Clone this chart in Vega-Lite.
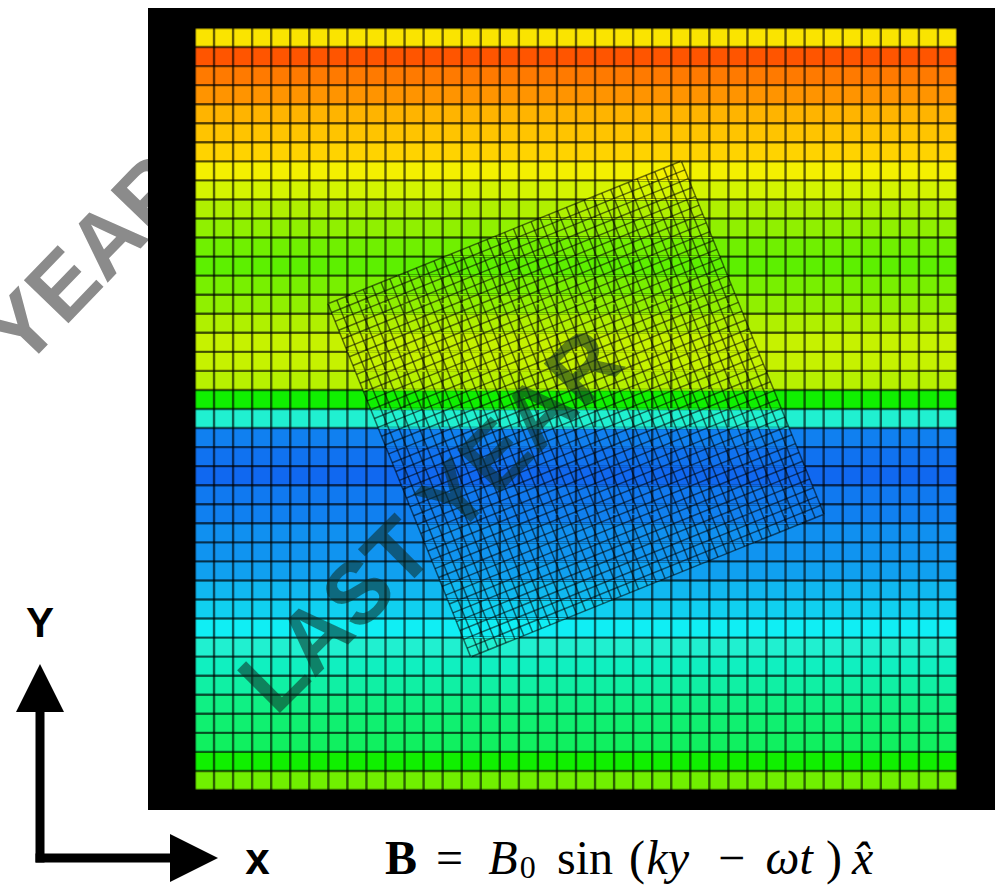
{
"$schema": "https://vega.github.io/schema/vega-lite/v6.json",
"width": 1000, "height": 885, "autosize": "none", "padding": 0, "background": "white",
"config": {"view": {"stroke": null}, "axis": {"disable": true}, "legend": {"disable": true}},
"datasets": {
"gridk": [{"k":0},{"k":1},{"k":2},{"k":3},{"k":4},{"k":5},{"k":6},{"k":7},{"k":8},{"k":9},{"k":10},{"k":11},{"k":12},{"k":13},{"k":14},{"k":15},{"k":16},{"k":17},{"k":18},{"k":19},{"k":20},{"k":21},{"k":22},{"k":23},{"k":24},{"k":25},{"k":26},{"k":27},{"k":28},{"k":29},{"k":30},{"k":31},{"k":32},{"k":33},{"k":34},{"k":35},{"k":36},{"k":37},{"k":38},{"k":39},{"k":40}],
"bands": [
{"row":0,"y0":39,"y1":40,"v":0.885},{"row":1,"y0":38,"y1":39,"v":1.0},{"row":2,"y0":37,"y1":38,"v":0.97},{"row":3,"y0":36,"y1":37,"v":0.95},
{"row":4,"y0":35,"y1":36,"v":0.93},{"row":5,"y0":34,"y1":35,"v":0.92},{"row":6,"y0":33,"y1":34,"v":0.905},{"row":7,"y0":32,"y1":33,"v":0.87},
{"row":8,"y0":31,"y1":32,"v":0.83},{"row":9,"y0":30,"y1":31,"v":0.78},{"row":10,"y0":29,"y1":30,"v":0.74},{"row":11,"y0":28,"y1":29,"v":0.70},
{"row":12,"y0":27,"y1":28,"v":0.68},{"row":13,"y0":26,"y1":27,"v":0.71},{"row":14,"y0":25,"y1":26,"v":0.74},{"row":15,"y0":24,"y1":25,"v":0.78},
{"row":16,"y0":23,"y1":24,"v":0.81},{"row":17,"y0":22,"y1":23,"v":0.81},{"row":18,"y0":21,"y1":22,"v":0.79},{"row":19,"y0":20,"y1":21,"v":0.6},
{"row":20,"y0":19,"y1":20,"v":0.36},{"row":21,"y0":18,"y1":19,"v":0.07},{"row":22,"y0":17,"y1":18,"v":0.03},{"row":23,"y0":16,"y1":17,"v":0.0},
{"row":24,"y0":15,"y1":16,"v":0.05},{"row":25,"y0":14,"y1":15,"v":0.07},{"row":26,"y0":13,"y1":14,"v":0.11},{"row":27,"y0":12,"y1":13,"v":0.12},
{"row":28,"y0":11,"y1":12,"v":0.15},{"row":29,"y0":10,"y1":11,"v":0.2},{"row":30,"y0":9,"y1":10,"v":0.25},{"row":31,"y0":8,"y1":9,"v":0.3},
{"row":32,"y0":7,"y1":8,"v":0.36},{"row":33,"y0":6,"y1":7,"v":0.38},{"row":34,"y0":5,"y1":6,"v":0.41},{"row":35,"y0":4,"y1":5,"v":0.45},
{"row":36,"y0":3,"y1":4,"v":0.48},{"row":37,"y0":2,"y1":3,"v":0.5},{"row":38,"y0":1,"y1":2,"v":0.6},{"row":39,"y0":0,"y1":1,"v":0.7}
],
"rotbands": [
{"b":6,"w":6.982,"l":14.474,"r":14.474,"v":0.38},{"b":6,"w":7,"l":14.467,"r":14.519,"v":0.38},
{"b":7,"w":7,"l":14.467,"r":14.519,"v":0.36},{"b":7,"w":8,"l":14.063,"r":16.994,"v":0.36},
{"b":8,"w":8,"l":14.063,"r":16.994,"v":0.3},{"b":8,"w":9,"l":13.659,"r":19.469,"v":0.3},
{"b":9,"w":9,"l":13.659,"r":19.469,"v":0.25},{"b":9,"w":10,"l":13.255,"r":21.944,"v":0.25},
{"b":10,"w":10,"l":13.255,"r":21.944,"v":0.2},{"b":10,"w":11,"l":12.851,"r":24.419,"v":0.2},
{"b":11,"w":11,"l":12.851,"r":24.419,"v":0.15},{"b":11,"w":12,"l":12.447,"r":26.894,"v":0.15},
{"b":12,"w":12,"l":12.447,"r":26.894,"v":0.12},{"b":12,"w":13,"l":12.043,"r":29.370,"v":0.12},
{"b":13,"w":13,"l":12.043,"r":29.370,"v":0.11},{"b":13,"w":14,"l":11.639,"r":31.845,"v":0.11},
{"b":14,"w":14,"l":11.639,"r":31.845,"v":0.07},{"b":14,"w":14.474,"l":11.447,"r":33.018,"v":0.07},{"b":14,"w":15,"l":11.235,"r":32.806,"v":0.07},
{"b":15,"w":15,"l":11.235,"r":32.806,"v":0.05},{"b":15,"w":16,"l":10.831,"r":32.402,"v":0.05},
{"b":16,"w":16,"l":10.831,"r":32.402,"v":0.0},{"b":16,"w":17,"l":10.427,"r":31.998,"v":0.0},
{"b":17,"w":17,"l":10.427,"r":31.998,"v":0.03},{"b":17,"w":18,"l":10.023,"r":31.594,"v":0.03},
{"b":18,"w":18,"l":10.023,"r":31.594,"v":0.07},{"b":18,"w":19,"l":9.619,"r":31.189,"v":0.07},
{"b":19,"w":19,"l":9.619,"r":31.189,"v":0.36},{"b":19,"w":20,"l":9.215,"r":30.785,"v":0.36},
{"b":20,"w":20,"l":9.215,"r":30.785,"v":0.6},{"b":20,"w":21,"l":8.811,"r":30.381,"v":0.6},
{"b":21,"w":21,"l":8.811,"r":30.381,"v":0.79},{"b":21,"w":22,"l":8.407,"r":29.977,"v":0.79},
{"b":22,"w":22,"l":8.407,"r":29.977,"v":0.81},{"b":22,"w":23,"l":8.003,"r":29.573,"v":0.81},
{"b":23,"w":23,"l":8.003,"r":29.573,"v":0.81},{"b":23,"w":24,"l":7.599,"r":29.169,"v":0.81},
{"b":24,"w":24,"l":7.599,"r":29.169,"v":0.78},{"b":24,"w":25,"l":7.195,"r":28.765,"v":0.78},
{"b":25,"w":25,"l":7.195,"r":28.765,"v":0.74},{"b":25,"w":25.526,"l":6.982,"r":28.553,"v":0.74},{"b":25,"w":26,"l":8.155,"r":28.361,"v":0.74},
{"b":26,"w":26,"l":8.155,"r":28.361,"v":0.71},{"b":26,"w":27,"l":10.630,"r":27.957,"v":0.71},
{"b":27,"w":27,"l":10.630,"r":27.957,"v":0.68},{"b":27,"w":28,"l":13.106,"r":27.553,"v":0.68},
{"b":28,"w":28,"l":13.106,"r":27.553,"v":0.70},{"b":28,"w":29,"l":15.581,"r":27.149,"v":0.70},
{"b":29,"w":29,"l":15.581,"r":27.149,"v":0.74},{"b":29,"w":30,"l":18.056,"r":26.745,"v":0.74},
{"b":30,"w":30,"l":18.056,"r":26.745,"v":0.78},{"b":30,"w":31,"l":20.531,"r":26.341,"v":0.78},
{"b":31,"w":31,"l":20.531,"r":26.341,"v":0.83},{"b":31,"w":32,"l":23.006,"r":25.937,"v":0.83},
{"b":32,"w":32,"l":23.006,"r":25.937,"v":0.87},{"b":32,"w":33,"l":25.481,"r":25.533,"v":0.87},
{"b":33,"w":33,"l":25.481,"r":25.533,"v":0.905},{"b":33,"w":33.018,"l":25.526,"r":25.526,"v":0.905}
],
"rotlines": [
{"xa":14.474,"ya":6.982,"xb":6.982,"yb":25.526},{"xa":14.938,"ya":7.169,"xb":7.446,"yb":25.713},{"xa":15.401,"ya":7.357,"xb":7.909,"yb":25.901},
{"xa":15.865,"ya":7.544,"xb":8.373,"yb":26.088},{"xa":16.328,"ya":7.731,"xb":8.836,"yb":26.275},{"xa":16.792,"ya":7.919,"xb":9.300,"yb":26.463},
{"xa":17.256,"ya":8.106,"xb":9.764,"yb":26.650},{"xa":17.719,"ya":8.293,"xb":10.227,"yb":26.837},{"xa":18.183,"ya":8.480,"xb":10.691,"yb":27.024},
{"xa":18.646,"ya":8.668,"xb":11.154,"yb":27.212},{"xa":19.110,"ya":8.855,"xb":11.618,"yb":27.399},{"xa":19.574,"ya":9.042,"xb":12.082,"yb":27.586},
{"xa":20.037,"ya":9.230,"xb":12.545,"yb":27.774},{"xa":20.501,"ya":9.417,"xb":13.009,"yb":27.961},{"xa":20.964,"ya":9.604,"xb":13.472,"yb":28.148},
{"xa":21.428,"ya":9.792,"xb":13.936,"yb":28.336},{"xa":21.892,"ya":9.979,"xb":14.400,"yb":28.523},{"xa":22.355,"ya":10.166,"xb":14.863,"yb":28.710},
{"xa":22.819,"ya":10.353,"xb":15.327,"yb":28.897},{"xa":23.282,"ya":10.541,"xb":15.790,"yb":29.085},{"xa":23.746,"ya":10.728,"xb":16.254,"yb":29.272},
{"xa":24.210,"ya":10.915,"xb":16.718,"yb":29.459},{"xa":24.673,"ya":11.103,"xb":17.181,"yb":29.647},{"xa":25.137,"ya":11.290,"xb":17.645,"yb":29.834},
{"xa":25.600,"ya":11.477,"xb":18.108,"yb":30.021},{"xa":26.064,"ya":11.665,"xb":18.572,"yb":30.209},{"xa":26.528,"ya":11.852,"xb":19.036,"yb":30.396},
{"xa":26.991,"ya":12.039,"xb":19.499,"yb":30.583},{"xa":27.455,"ya":12.226,"xb":19.963,"yb":30.770},{"xa":27.918,"ya":12.414,"xb":20.426,"yb":30.958},
{"xa":28.382,"ya":12.601,"xb":20.890,"yb":31.145},{"xa":28.846,"ya":12.788,"xb":21.354,"yb":31.332},{"xa":29.309,"ya":12.976,"xb":21.817,"yb":31.520},
{"xa":29.773,"ya":13.163,"xb":22.281,"yb":31.707},{"xa":30.236,"ya":13.350,"xb":22.744,"yb":31.894},{"xa":30.700,"ya":13.538,"xb":23.208,"yb":32.082},
{"xa":31.164,"ya":13.725,"xb":23.672,"yb":32.269},{"xa":31.627,"ya":13.912,"xb":24.135,"yb":32.456},{"xa":32.091,"ya":14.099,"xb":24.599,"yb":32.643},
{"xa":32.554,"ya":14.287,"xb":25.062,"yb":32.831},{"xa":33.018,"ya":14.474,"xb":25.526,"yb":33.018},
{"xa":14.474,"ya":6.982,"xb":33.018,"yb":14.474},{"xa":14.287,"ya":7.446,"xb":32.831,"yb":14.938},{"xa":14.099,"ya":7.909,"xb":32.643,"yb":15.401},
{"xa":13.912,"ya":8.373,"xb":32.456,"yb":15.865},{"xa":13.725,"ya":8.836,"xb":32.269,"yb":16.328},{"xa":13.538,"ya":9.300,"xb":32.082,"yb":16.792},
{"xa":13.350,"ya":9.764,"xb":31.894,"yb":17.256},{"xa":13.163,"ya":10.227,"xb":31.707,"yb":17.719},{"xa":12.976,"ya":10.691,"xb":31.520,"yb":18.183},
{"xa":12.788,"ya":11.154,"xb":31.332,"yb":18.646},{"xa":12.601,"ya":11.618,"xb":31.145,"yb":19.110},{"xa":12.414,"ya":12.082,"xb":30.958,"yb":19.574},
{"xa":12.226,"ya":12.545,"xb":30.770,"yb":20.037},{"xa":12.039,"ya":13.009,"xb":30.583,"yb":20.501},{"xa":11.852,"ya":13.472,"xb":30.396,"yb":20.964},
{"xa":11.665,"ya":13.936,"xb":30.209,"yb":21.428},{"xa":11.477,"ya":14.400,"xb":30.021,"yb":21.892},{"xa":11.290,"ya":14.863,"xb":29.834,"yb":22.355},
{"xa":11.103,"ya":15.327,"xb":29.647,"yb":22.819},{"xa":10.915,"ya":15.790,"xb":29.459,"yb":23.282},{"xa":10.728,"ya":16.254,"xb":29.272,"yb":23.746},
{"xa":10.541,"ya":16.718,"xb":29.085,"yb":24.210},{"xa":10.353,"ya":17.181,"xb":28.897,"yb":24.673},{"xa":10.166,"ya":17.645,"xb":28.710,"yb":25.137},
{"xa":9.979,"ya":18.108,"xb":28.523,"yb":25.600},{"xa":9.792,"ya":18.572,"xb":28.336,"yb":26.064},{"xa":9.604,"ya":19.036,"xb":28.148,"yb":26.528},
{"xa":9.417,"ya":19.499,"xb":27.961,"yb":26.991},{"xa":9.230,"ya":19.963,"xb":27.774,"yb":27.455},{"xa":9.042,"ya":20.426,"xb":27.586,"yb":27.918},
{"xa":8.855,"ya":20.890,"xb":27.399,"yb":28.382},{"xa":8.668,"ya":21.354,"xb":27.212,"yb":28.846},{"xa":8.480,"ya":21.817,"xb":27.024,"yb":29.309},
{"xa":8.293,"ya":22.281,"xb":26.837,"yb":29.773},{"xa":8.106,"ya":22.744,"xb":26.650,"yb":30.236},{"xa":7.919,"ya":23.208,"xb":26.463,"yb":30.700},
{"xa":7.731,"ya":23.672,"xb":26.275,"yb":31.164},{"xa":7.544,"ya":24.135,"xb":26.088,"yb":31.627},{"xa":7.357,"ya":24.599,"xb":25.901,"yb":32.091},
{"xa":7.169,"ya":25.062,"xb":25.713,"yb":32.554},{"xa":6.982,"ya":25.526,"xb":25.526,"yb":33.018}
]
},
"layer": [
{"data": {"values": [{"t": "YEAR"}]},
 "mark": {"type": "text", "font": "Liberation Sans", "fontWeight": "bold", "fontSize": 90, "angle": -46, "align": "center", "baseline": "middle", "fill": "#8b8b8b"},
 "encoding": {
  "x": {"datum": -5.512, "type": "quantitative", "scale": {"domain": [-10.236, 42.257], "nice": false, "zero": false}, "axis": null},
  "y": {"datum": 27.717, "type": "quantitative", "scale": {"domain": [-4.987, 41.470], "nice": false, "zero": false}, "axis": null},
  "text": {"field": "t"}}},
{"data": {"values": [{}]},
 "mark": {"type": "rect", "color": "#000000"},
 "encoding": {"x": {"datum": -2.467}, "x2": {"datum": 41.995}, "y": {"datum": -1.05}, "y2": {"datum": 41.05}}},
{"data": {"name": "bands"},
 "mark": {"type": "rect"},
 "encoding": {
  "x": {"datum": 0}, "x2": {"datum": 40},
  "y": {"field": "y0", "type": "quantitative"}, "y2": {"field": "y1"},
  "color": {"field": "v", "type": "quantitative", "legend": null,
   "scale": {"domain": [0, 0.07, 0.12, 0.15, 0.2, 0.25, 0.3, 0.36, 0.38, 0.41, 0.45, 0.48, 0.5, 0.6, 0.7, 0.78, 0.83, 0.87, 0.9, 0.92, 0.95, 0.97, 1.0],
             "range": ["#1068f0", "#1080f0", "#1094f0", "#10a0f0", "#10b8f0", "#10d0f0", "#10eef4", "#20f0d0", "#10f0c0", "#10f0a4", "#10f084", "#10f070", "#10f060", "#10f000", "#70f000", "#b0f000", "#d4f400", "#f4f000", "#ffd800", "#ffc400", "#ff9400", "#ff7a00", "#ff5500"],
             "interpolate": "rgb"}}}},
{"data": {"name": "gridk"},
 "mark": {"type": "rule", "color": "#000000", "opacity": 0.6, "strokeWidth": 2.4},
 "encoding": {"x": {"field": "k", "type": "quantitative"}, "y": {"datum": 0}, "y2": {"datum": 40}}},
{"data": {"name": "gridk"},
 "mark": {"type": "rule", "color": "#000000", "opacity": 0.6, "strokeWidth": 2.4},
 "encoding": {"y": {"field": "k", "type": "quantitative"}, "x": {"datum": 0}, "x2": {"datum": 40}}},
{"data": {"name": "rotbands"},
 "mark": {"type": "area", "orient": "horizontal", "strokeWidth": 0.8, "opacity": 1},
 "encoding": {
  "y": {"field": "w", "type": "quantitative"},
  "x": {"field": "l", "type": "quantitative"}, "x2": {"field": "r"},
  "detail": {"field": "b", "type": "nominal"},
  "order": {"field": "w", "type": "quantitative"},
  "color": {"field": "v", "type": "quantitative", "legend": null},
  "stroke": {"field": "v", "type": "quantitative", "legend": null,
   "scale": {"domain": [0, 0.07, 0.12, 0.15, 0.2, 0.25, 0.3, 0.36, 0.38, 0.41, 0.45, 0.48, 0.5, 0.6, 0.7, 0.78, 0.83, 0.87, 0.9, 0.92, 0.95, 0.97, 1.0],
             "range": ["#1068f0", "#1080f0", "#1094f0", "#10a0f0", "#10b8f0", "#10d0f0", "#10eef4", "#20f0d0", "#10f0c0", "#10f0a4", "#10f084", "#10f070", "#10f060", "#10f000", "#70f000", "#b0f000", "#d4f400", "#f4f000", "#ffd800", "#ffc400", "#ff9400", "#ff7a00", "#ff5500"],
             "interpolate": "rgb"}}}},
{"data": {"name": "rotlines"},
 "mark": {"type": "rule", "color": "#000000", "opacity": 0.55, "strokeWidth": 1.5},
 "encoding": {"x": {"field": "xa", "type": "quantitative"}, "y": {"field": "ya", "type": "quantitative"}, "x2": {"field": "xb"}, "y2": {"field": "yb"}}},
{"data": {"values": [{"t": "LAST YEAR"}]},
 "mark": {"type": "text", "font": "Liberation Sans", "fontWeight": "bold", "fontSize": 88, "angle": -45, "align": "center", "baseline": "middle", "fill": "#0d2a22", "opacity": 0.55},
 "encoding": {"x": {"datum": 12.493}, "y": {"datum": 14.016}, "text": {"field": "t"}}},
{"data": {"values": [{}]},
 "mark": {"type": "rule", "color": "#000000", "strokeWidth": 9},
 "encoding": {"x": {"datum": -8.136}, "y": {"datum": -3.806}, "y2": {"datum": 4.724}}},
{"data": {"values": [{}]},
 "mark": {"type": "rule", "color": "#000000", "strokeWidth": 9},
 "encoding": {"y": {"datum": -3.570}, "x": {"datum": -8.373}, "x2": {"datum": -0.787}}},
{"data": {"values": [{}]},
 "mark": {"type": "point", "shape": "M0,-1L1,1L-1,1Z", "filled": true, "color": "#000000", "opacity": 1, "size": 2300, "strokeWidth": 0},
 "encoding": {"x": {"datum": -8.136}, "y": {"datum": 5.354}}},
{"data": {"values": [{}]},
 "mark": {"type": "point", "shape": "M1,0L-1,-1L-1,1Z", "filled": true, "color": "#000000", "opacity": 1, "size": 2300, "strokeWidth": 0},
 "encoding": {"x": {"datum": -0.052}, "y": {"datum": -3.570}}},
{"data": {"values": [{"t": "Y"}]},
 "mark": {"type": "text", "font": "Liberation Sans", "fontWeight": "bold", "fontSize": 42, "align": "center", "baseline": "alphabetic", "fill": "#000000"},
 "encoding": {"x": {"datum": -8.136}, "y": {"datum": 8.031}, "text": {"field": "t"}}},
{"data": {"values": [{"t": "x"}]},
 "mark": {"type": "text", "font": "Liberation Sans", "fontWeight": "bold", "fontSize": 44, "align": "center", "baseline": "alphabetic", "fill": "#000000"},
 "encoding": {"x": {"datum": 3.281}, "y": {"datum": -4.409}, "text": {"field": "t"}}},
{"data": {"values": [{"t": "B", "p": 9.974}]},
 "mark": {"type": "text", "font": "Liberation Serif", "fontWeight": "bold", "fontSize": 48, "align": "left", "baseline": "alphabetic", "fill": "#000000"},
 "encoding": {"x": {"field": "p", "type": "quantitative"}, "y": {"datum": -4.409}, "text": {"field": "t"}}},
{"data": {"values": [{"t": "=", "p": 12.650}, {"t": "sin", "p": 19.000}, {"t": "(", "p": 22.782}, {"t": "−", "p": 27.450}, {"t": ")", "p": 33.123}]},
 "mark": {"type": "text", "font": "Liberation Serif", "fontSize": 48, "align": "left", "baseline": "alphabetic", "fill": "#000000"},
 "encoding": {"x": {"field": "p", "type": "quantitative"}, "y": {"datum": -4.409}, "text": {"field": "t"}}},
{"data": {"values": [{"t": "B", "p": 15.400}, {"t": "ky", "p": 23.700}, {"t": "ωt", "p": 29.950}, {"t": "x̂", "p": 34.488}]},
 "mark": {"type": "text", "font": "Liberation Serif", "fontStyle": "italic", "fontSize": 48, "align": "left", "baseline": "alphabetic", "fill": "#000000"},
 "encoding": {"x": {"field": "p", "type": "quantitative"}, "y": {"datum": -4.409}, "text": {"field": "t"}}},
{"data": {"values": [{"t": "0", "p": 17.050}]},
 "mark": {"type": "text", "font": "Liberation Serif", "fontSize": 32, "align": "left", "baseline": "alphabetic", "fill": "#000000"},
 "encoding": {"x": {"field": "p", "type": "quantitative"}, "y": {"datum": -4.619}, "text": {"field": "t"}}}
]
}
